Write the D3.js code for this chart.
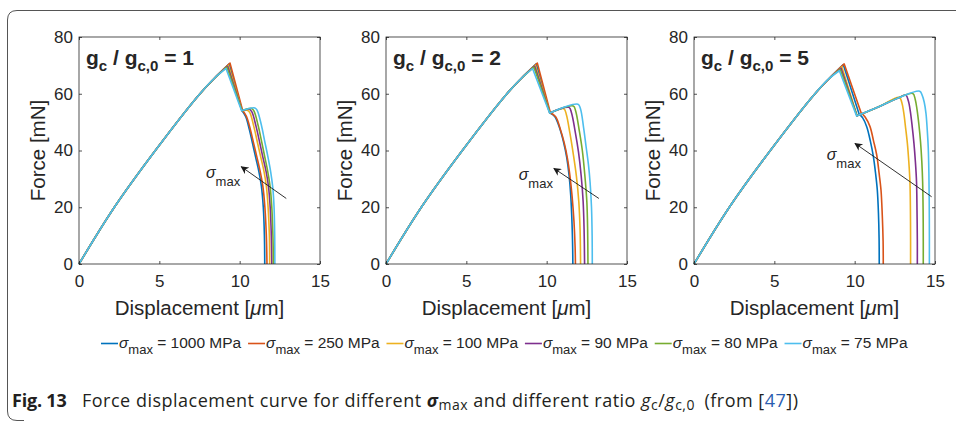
<!DOCTYPE html>
<html>
<head>
<meta charset="utf-8">
<script src="https://cdn.jsdelivr.net/npm/d3@7"></script>
<style>
    body { margin: 0; background: #fff; }
    svg text { font-family: "Liberation Sans", Arial, sans-serif; fill: #262626; }
    .caption text { font-family: "Open Sans", "Noto Sans", sans-serif; fill: #231f20; }
</style>
</head>
<body>
<svg id="fig" width="956" height="424"></svg>
<script>
// chart values
const sigmaMax = [1000, 250, 100, 90, 80, 75];
const ratios = [1, 2, 5];
const xTicks = [0, 5, 10, 15];
const yTicks = [0, 20, 40, 60, 80];

// loading branch shared by every curve (they overlap up to ~65 mN)
const loading = [[0, 0], [2.2, 20], [4.75, 40], [7.45, 59.5], [8.4, 65.3]];

// post-linear part, one list per sigma_max: [peak, valley, ...softening]
// gc/gc,0 = 1
const curvesRatio1 = [
    [[9.35, 70.5], [10.15, 54], [10.37, 52], [10.6, 47.5], [10.8, 42.5], [11.0, 37.5], [11.2, 32.5], [11.35, 27.5], [11.47, 20], [11.54, 10], [11.56, 0]],
    [[9.4, 70.8], [10.18, 54.2], [10.42, 52], [10.66, 47.5], [10.87, 42.5], [11.08, 37.5], [11.28, 32.5], [11.44, 27.5], [11.57, 20], [11.66, 10], [11.7, 0]],
    [[9.3, 70], [10.15, 54], [10.45, 54.2], [10.62, 53.5], [10.88, 48.5], [11.1, 43], [11.32, 37.5], [11.52, 32.5], [11.66, 27.5], [11.77, 20], [11.85, 10], [11.87, 0]],
    [[9.25, 69.7], [10.15, 54], [10.6, 54.5], [10.76, 53.6], [11.02, 48.5], [11.24, 43], [11.45, 37.5], [11.65, 32.5], [11.79, 27.5], [11.9, 20], [11.97, 10], [12.0, 0]],
    [[9.2, 69.4], [10.15, 54], [10.75, 54.8], [10.9, 53.8], [11.15, 48.8], [11.36, 43.3], [11.56, 37.8], [11.75, 32.5], [11.89, 27.5], [12.0, 20], [12.07, 10], [12.1, 0]],
    [[9.15, 68.9], [10.12, 54], [10.95, 55], [11.1, 54], [11.35, 49], [11.55, 43.5], [11.75, 38], [11.93, 32.5], [12.06, 27], [12.14, 20], [12.18, 10], [12.19, 0]]
];

// gc/gc,0 = 2
const curvesRatio2 = [
    [[9.35, 70.5], [10.2, 53.2], [10.5, 52], [10.8, 48], [11.05, 43], [11.25, 37.5], [11.4, 31], [11.5, 24], [11.58, 14], [11.62, 5], [11.63, 0]],
    [[9.42, 70.8], [10.23, 53.3], [10.56, 51.9], [10.85, 47.5], [11.1, 42.5], [11.3, 37], [11.45, 31], [11.58, 24], [11.7, 15], [11.77, 6], [11.79, 0]],
    [[9.3, 70], [10.2, 53.2], [11.07, 54.7], [11.22, 52.8], [11.45, 46], [11.65, 39], [11.85, 31], [12.0, 22], [12.08, 12], [12.11, 0]],
    [[9.25, 69.7], [10.2, 53.2], [11.39, 55.2], [11.54, 53.4], [11.78, 46.5], [11.98, 39.5], [12.15, 31], [12.27, 22], [12.33, 12], [12.36, 0]],
    [[9.2, 69.4], [10.2, 53.2], [11.66, 55.7], [11.8, 54], [12.03, 47], [12.22, 40], [12.38, 31], [12.5, 22], [12.55, 12], [12.57, 0]],
    [[9.12, 68.9], [10.18, 53.2], [11.95, 56.3], [12.1, 54.8], [12.3, 48], [12.45, 41.5], [12.6, 35], [12.7, 29], [12.79, 20], [12.83, 10], [12.84, 0]]
];

// gc/gc,0 = 5
const curvesRatio5 = [
    [[9.29, 70.3], [10.28, 52.8], [10.5, 51.5], [10.75, 48.4], [10.97, 43.5], [11.16, 38], [11.3, 32], [11.41, 26], [11.48, 18], [11.52, 9], [11.53, 0]],
    [[9.35, 70.5], [10.4, 53.3], [10.65, 51.8], [10.95, 48.5], [11.17, 43.5], [11.37, 38.5], [11.52, 32], [11.64, 26], [11.72, 17], [11.77, 8], [11.78, 0]],
    [[9.2, 69.5], [10.15, 52.2], [11.5, 55.4], [12.78, 58.7], [12.93, 57], [13.05, 53.5], [13.17, 48], [13.28, 42.5], [13.37, 36], [13.44, 29], [13.47, 19], [13.48, 8], [13.48, 0]],
    [[9.15, 69], [10.15, 52.2], [11.5, 55.4], [12.78, 58.7], [13.19, 59.5], [13.34, 57.5], [13.46, 54], [13.58, 48.5], [13.69, 42.5], [13.78, 36], [13.85, 29], [13.88, 19], [13.9, 8], [13.9, 0]],
    [[9.1, 68.6], [10.15, 52.2], [11.5, 55.4], [12.78, 58.7], [13.62, 60.1], [13.77, 58], [13.88, 54.5], [14.0, 49], [14.1, 43], [14.18, 36], [14.23, 29], [14.26, 19], [14.27, 8], [14.27, 0]],
    [[9.05, 68.1], [10.12, 52.2], [11.5, 55.4], [12.78, 58.7], [14.05, 60.9], [14.2, 59.5], [14.33, 57], [14.44, 53], [14.52, 47], [14.58, 41], [14.62, 32], [14.64, 22], [14.65, 10], [14.65, 0]]
];

// sigma_max arrow and label, in data units of each panel
const arrowTails = [[12.9, 23.1], [13.25, 23.1], [14.79, 23.7]];
const arrowHeads = [[10.1, 34.3], [10.45, 33.7], [10.02, 42.5]];
const sigmaLabels = [[7.9, 30.3], [8.26, 29.6], [8.26, 36.6]];

// MATLAB default line colours
const seriesColors = ['#0072BD', '#D95319', '#EDB120', '#7E2F8E', '#77AC30', '#4DBEEE'];

function ForceChart() {

    let _width = 241;
    let _height = 227;
    let _ratio = 1;
    let _arrow = {tail: [0, 0], head: [0, 0]};
    let _label = [0, 0];

    function exports(curves) {
        const plot = d3.select(this);
        const w = _width;
        const h = _height;

        // setting up scales
        const scaleX = d3.scaleLinear().domain([0, 15]).range([0, w]);
        const scaleY = d3.scaleLinear().domain([0, 80]).range([h, 0]);

        // line generators: smooth for the loading and softening parts,
        // straight for the sudden drop so the peak stays sharp
        const smooth = d3.line()
            .x(d => scaleX(d[0]))
            .y(d => scaleY(d[1]))
            .curve(d3.curveCatmullRom.alpha(0.5));
        const straight = d3.line()
            .x(d => scaleX(d[0]))
            .y(d => scaleY(d[1]));

        const curvePath = d => smooth(loading.concat([d[0]]))
            + straight(d.slice(0, 2)).replace('M', 'L')
            + smooth(d.slice(1)).replace('M', 'L');

        // curves, drawn in legend order so the 75 MPa one ends up on top
        plot.selectAll('.curve')
            .data(curves)
            .enter()
            .append('path')
            .attr('class', 'curve')
            .attr('d', curvePath)
            .style('fill', 'none')
            .style('stroke', (d, i) => seriesColors[i])
            .style('stroke-width', 1.6)
            .style('stroke-linejoin', 'round');

        // axes, ticks pointing inwards on all four sides
        const axisB = d3.axisBottom(scaleX).tickValues(xTicks).tickSizeInner(-3).tickSizeOuter(0).tickPadding(11);
        const axisL = d3.axisLeft(scaleY).tickValues(yTicks).tickSizeInner(-3).tickSizeOuter(0).tickPadding(6);
        const axisT = d3.axisTop(scaleX).tickValues(xTicks).tickSizeInner(-3).tickSizeOuter(0).tickFormat('');
        const axisR = d3.axisRight(scaleY).tickValues(yTicks).tickSizeInner(-3).tickSizeOuter(0).tickFormat('');

        const gB = plot.append('g').attr('transform', `translate(0,${h})`).call(axisB);
        const gL = plot.append('g').call(axisL);
        const gT = plot.append('g').call(axisT);
        const gR = plot.append('g').attr('transform', `translate(${w},0)`).call(axisR);

        [gB, gL, gT, gR].forEach(g => {
            g.select('.domain').remove();
            g.selectAll('line').attr('stroke', '#262626').attr('stroke-width', 0.8);
            g.selectAll('text')
                .attr('fill', '#262626')
                .style('font-size', '17px')
                .style('font-family', '"Liberation Sans", Arial, sans-serif');
        });

        // box
        plot.append('rect')
            .attr('width', w)
            .attr('height', h)
            .style('fill', 'none')
            .style('stroke', '#262626')
            .style('stroke-width', 0.8);

        // axis titles
        const xLabel = plot.append('text')
            .attr('x', w / 2)
            .attr('y', h + 51)
            .attr('text-anchor', 'middle')
            .style('font-size', '20.5px');
        xLabel.append('tspan').text('Displacement [');
        xLabel.append('tspan').style('font-style', 'italic').text('\u03bc');
        xLabel.append('tspan').text('m]');

        plot.append('text')
            .attr('transform', `translate(-34,${h / 2}) rotate(-90)`)
            .attr('text-anchor', 'middle')
            .style('font-size', '20.5px')
            .text('Force [mN]');

        // gc / gc,0 label
        const title = plot.append('text')
            .attr('x', 7)
            .attr('y', 28)
            .style('font-size', '21px')
            .style('font-weight', 'bold');
        title.append('tspan').text('g');
        title.append('tspan').attr('dy', 6).style('font-size', '15px').text('c');
        title.append('tspan').attr('dy', -6).text(' / g');
        title.append('tspan').attr('dy', 6).style('font-size', '15px').text('c,0');
        title.append('tspan').attr('dy', -6).text(` = ${_ratio}`);

        // sigma_max arrow
        plot.append('line')
            .attr('x1', scaleX(_arrow.tail[0]))
            .attr('y1', scaleY(_arrow.tail[1]))
            .attr('x2', scaleX(_arrow.head[0]))
            .attr('y2', scaleY(_arrow.head[1]))
            .style('stroke', '#1a1a1a')
            .style('stroke-width', 0.9)
            .attr('marker-end', 'url(#arrowhead)');

        const sig = plot.append('text')
            .attr('x', scaleX(_label[0]))
            .attr('y', scaleY(_label[1]))
            .style('font-size', '16px');
        sig.append('tspan').style('font-style', 'italic').text('\u03c3');
        sig.append('tspan').attr('dy', 8).style('font-size', '13px').text('max');
    }

    // getter-setter pattern
    exports.ratio = function(_) {
        if (typeof _ === 'undefined') return _ratio;
        _ratio = _;
        return this;
    };

    exports.arrow = function(_) {
        if (typeof _ === 'undefined') return _arrow;
        _arrow = _;
        return this;
    };

    exports.label = function(_) {
        if (typeof _ === 'undefined') return _label;
        _label = _;
        return this;
    };

    return exports;
}

const svg = d3.select('#fig');

// arrowhead marker
svg.append('defs').append('marker')
    .attr('id', 'arrowhead')
    .attr('viewBox', '0 0 10 10')
    .attr('refX', 9)
    .attr('refY', 5)
    .attr('markerUnits', 'userSpaceOnUse')
    .attr('markerWidth', 9)
    .attr('markerHeight', 8)
    .attr('orient', 'auto')
    .append('path')
    .attr('d', 'M0,0 L10,5 L0,10 L3,5 Z')
    .style('fill', '#1a1a1a');

// figure frame (rounded left side)
svg.append('path')
    .attr('d', 'M956,10.5 H17 Q7.5,10.5 7.5,20 V411 Q7.5,420.5 17,420.5 H24')
    .style('fill', 'none')
    .style('stroke', '#555')
    .style('stroke-width', 1);

// panels
const panelCurves = [curvesRatio1, curvesRatio2, curvesRatio5];
const panelLeft = [79, 386, 694];

ratios.forEach((r, i) => {
    const chart = ForceChart()
        .ratio(r)
        .arrow({tail: arrowTails[i], head: arrowHeads[i]})
        .label(sigmaLabels[i]);
    const g = svg.append('g').attr('transform', `translate(${panelLeft[i]},37)`);
    chart.call(g.node(), panelCurves[i]);
});

// legend
const legend = svg.append('g').attr('class', 'legend');
let cursor = 101;
sigmaMax.forEach((s, i) => {
    legend.append('line')
        .attr('x1', cursor)
        .attr('x2', cursor + 17)
        .attr('y1', 343.5)
        .attr('y2', 343.5)
        .style('stroke', seriesColors[i])
        .style('stroke-width', 1.6);
    const t = legend.append('text')
        .attr('x', cursor + 18)
        .attr('y', 348)
        .style('font-size', '15.5px');
    t.append('tspan').style('font-style', 'italic').text('\u03c3');
    t.append('tspan').attr('dy', 6).style('font-size', '13px').text('max');
    t.append('tspan').attr('dy', -6).text(` = ${s} MPa`);
    cursor += 18 + t.node().getComputedTextLength() + 6.8;
});

// caption
const caption = svg.append('g').attr('class', 'caption');
caption.append('text')
    .attr('x', 12)
    .attr('y', 407)
    .style('font-size', '18px')
    .style('font-weight', 'bold')
    .style('letter-spacing', '-0.2px')
    .text('Fig. 13');
const cap = caption.append('text')
    .attr('x', 82)
    .attr('y', 407)
    .style('font-size', '18px')
    .style('letter-spacing', '0.5px');
cap.append('tspan').text('Force displacement curve for different ');
cap.append('tspan').style('font-style', 'italic').style('font-weight', 'bold').text('\u03c3');
cap.append('tspan').attr('dy', 3).style('font-size', '14px').text('max');
cap.append('tspan').attr('dy', -3).text(' and different ratio ');
cap.append('tspan').style('font-style', 'italic').text('g');
cap.append('tspan').attr('dy', 3).style('font-size', '14px').text('c');
cap.append('tspan').attr('dy', -3).text('/');
cap.append('tspan').style('font-style', 'italic').text('g');
cap.append('tspan').attr('dy', 3).style('font-size', '14px').text('c,0');
cap.append('tspan').attr('dy', -3).text('\u2002(from [');
cap.append('tspan').style('fill', '#2a5db0').text('47');
cap.append('tspan').text('])');
</script>
</body>
</html>
